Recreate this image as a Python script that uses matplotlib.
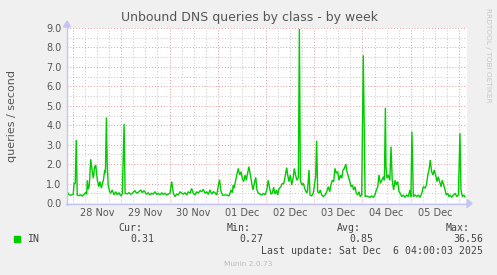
import matplotlib
matplotlib.use("Agg")
import matplotlib.pyplot as plt

# ---- data: hours since 28 Nov 00:00, queries/second ----
hours = [-2.9, -2.0, -0.9, 0.1, 0.5, 1.1, 1.6, 2.1, 3.0, 3.8, 4.6, 5.5, 6.3, 6.8, 7.1, 7.6, 8.1, 8.8,
         9.6, 10.1, 10.8, 11.3, 12.1, 12.6, 12.9, 13.4, 14.1, 14.6, 15.1, 15.8, 16.1, 16.6, 17.0, 17.5,
         18.2, 18.7, 19.5, 20.4, 21.2, 22.0, 22.9, 23.7, 24.5, 25.4, 25.9, 27.0, 27.8, 28.7, 29.5, 30.7,
         31.7, 32.8, 33.7, 34.5, 35.3, 36.2, 36.7, 37.4, 38.3, 39.1, 39.9, 40.8, 41.6, 42.4, 43.3, 44.1,
         44.9, 45.8, 46.6, 47.4, 48.2, 49.1, 49.9, 50.7, 51.6, 52.4, 53.2, 54.1, 54.9, 55.7, 56.6, 57.3,
         58.2, 59.0, 59.8, 60.7, 61.5, 62.3, 63.2, 64.0, 64.8, 65.7, 66.5, 67.3, 68.1, 69.0, 69.8, 70.6,
         71.5, 72.3, 72.9, 73.6, 74.4, 75.6, 76.6, 77.6, 78.6, 79.2, 79.7, 80.2, 80.9, 81.6, 82.2, 82.9,
         83.6, 84.2, 84.9, 85.6, 86.2, 86.9, 87.5, 88.2, 88.9, 89.5, 90.2, 90.9, 91.5, 92.2, 93.0, 93.9,
         94.7, 95.5, 96.4, 97.1, 97.8, 98.5, 99.1, 99.8, 100.5, 101.3, 101.8, 102.6, 103.3, 104.1, 104.8,
         105.5, 106.3, 106.8, 107.4, 108.1, 108.8, 109.6, 110.1, 110.8, 111.4, 112.1, 112.6, 113.1, 113.8,
         114.6, 115.4, 116.3, 116.7, 117.4, 117.9, 118.7, 119.5, 120.0, 120.7, 121.2, 121.7, 122.4, 123.0,
         123.7, 124.5, 125.4, 126.2, 127.0, 127.7, 128.3, 129.0, 129.7, 130.3, 131.0, 131.7, 132.3, 133.0,
         133.7, 134.3, 135.0, 135.7, 136.3, 137.0, 137.7, 138.3, 139.0, 139.6, 140.3, 140.9, 141.6, 142.3,
         142.9, 143.6, 144.4, 145.3, 146.1, 146.9, 147.7, 148.6, 149.4, 150.2, 150.9, 151.6, 152.2, 152.9,
         153.6, 154.4, 154.9, 155.4, 155.7, 156.2, 156.8, 157.6, 158.2, 158.8, 159.5, 160.2, 160.8, 161.5,
         162.2, 162.8, 163.5, 164.3, 165.2, 166.0, 166.8, 167.6, 168.1, 168.6, 169.3, 170.1, 171.0, 171.8,
         172.6, 173.5, 174.3, 175.1, 175.8, 176.5, 177.1, 177.7, 178.4, 179.1, 179.7, 180.4, 181.1, 181.7,
         182.4, 183.1, 183.7, 184.4, 185.1, 185.7, 186.4, 187.0, 187.7, 188.4, 189.2, 190.1, 190.9, 191.7,
         192.5, 193.0, 193.7, 194.4, 195.0]
values = [0.58, 0.42, 0.40, 0.45, 1.00, 1.00, 3.24, 0.40, 0.38, 0.42, 0.36, 0.45, 0.55, 0.45, 1.17, 0.70, 0.90, 2.25,
          1.61, 1.27, 1.87, 1.95, 1.17, 0.95, 0.84, 1.10, 0.76, 1.00, 1.17, 1.70, 1.53, 4.40, 2.00, 0.90,
          0.60, 0.50, 0.67, 0.42, 0.58, 0.42, 0.53, 0.36, 0.47, 4.06, 0.50, 0.47, 0.53, 0.45, 0.50, 0.64,
          0.50, 0.58, 0.67, 0.53, 0.64, 0.50, 0.46, 0.53, 0.41, 0.50, 0.46, 0.58, 0.44, 0.50, 0.41, 0.53,
          0.44, 0.50, 0.41, 0.46, 0.50, 1.10, 0.50, 0.33, 0.46, 0.41, 0.58, 0.50, 0.46, 0.53, 0.41, 0.58,
          0.50, 0.75, 0.50, 0.41, 0.58, 0.50, 0.64, 0.58, 0.70, 0.50, 0.58, 0.44, 0.67, 0.46, 0.58, 0.53,
          0.41, 0.90, 1.20, 0.60, 0.40, 0.41, 0.41, 0.36, 0.67, 0.53, 0.93, 0.76, 1.17, 1.49, 1.78, 1.44,
          1.61, 1.27, 1.10, 1.44, 1.17, 1.56, 1.87, 1.44, 1.01, 0.67, 1.01, 1.32, 0.67, 0.50, 0.46, 0.41,
          0.50, 0.41, 0.67, 1.17, 0.76, 0.46, 0.50, 0.81, 0.46, 0.67, 0.41, 0.76, 0.81, 1.01, 0.98,
          1.35, 1.82, 1.44, 1.10, 1.44, 0.93, 1.35, 1.78, 1.39, 1.17, 1.32, 8.95, 1.17, 0.93,
          1.01, 0.70, 0.50, 0.67, 1.70, 0.41, 0.36, 0.50, 0.84, 1.35, 3.20, 0.58, 0.50, 0.67,
          0.41, 0.33, 0.41, 0.58, 0.84, 0.58, 0.93, 1.17, 1.10, 1.78, 1.53, 1.61, 1.17, 1.44,
          1.27, 1.70, 1.78, 2.00, 1.61, 1.35, 1.10, 0.84, 0.93, 0.67, 0.84, 0.50, 0.41, 0.58,
          0.33, 0.41, 7.60, 0.33, 0.36, 0.33, 0.29, 0.36, 0.29, 0.41, 0.67, 0.84, 1.44, 1.01,
          1.17, 1.35, 1.17, 4.90, 1.87, 1.27, 1.44, 1.17, 2.90, 1.17, 0.67, 1.17, 0.93, 1.10,
          0.58, 0.50, 0.33, 0.41, 0.29, 0.41, 0.33, 0.67, 0.33, 3.67, 0.33, 0.41, 0.33, 0.41,
          0.29, 0.50, 0.84, 0.76, 0.93, 1.44, 1.70, 2.21, 1.61, 1.44, 1.70, 1.44, 1.10, 1.35,
          1.10, 0.84, 1.17, 0.93, 0.67, 0.41, 0.50, 0.33, 0.41, 0.29, 0.41, 0.50, 0.33, 0.41,
          3.59, 0.67, 0.33, 0.41, 0.31]

day_labels = ["28 Nov", "29 Nov", "30 Nov", "01 Dec", "02 Dec", "03 Dec", "04 Dec", "05 Dec"]
y_ticks = [0, 1, 2, 3, 4, 5, 6, 7, 8, 9]
title = "Unbound DNS queries by class - by week"
series_name = "IN"
stats_names = ["Cur:", "Min:", "Avg:", "Max:"]
stats_values = ["0.31", "0.27", "0.85", "36.56"]
last_update = "Last update: Sat Dec  6 04:00:03 2025"

W, H = 497, 275
fig = plt.figure(figsize=(W / 100, H / 100), dpi=100, facecolor="#f0f0f0")

def fx(x):
    return x / W

def fy(y):
    return 1 - y / H

ax = fig.add_axes([fx(67), fy(203), fx(400), 175 / H])
ax.set_facecolor("white")
ax.set_xlim(-3, 196)
ax.set_ylim(0, 9)

# grids
for v in [i * 0.5 for i in range(1, 18, 2)]:
    ax.axhline(v, color="#c8c8c8", lw=0.7, ls=(0, (1, 2)), zorder=1)
for v in y_ticks[1:]:
    ax.axhline(v, color="#e49a9a", lw=0.7, ls=(0, (1, 2)), zorder=1)
for h in range(0, 197, 6):
    if h % 24 != 0:
        ax.axvline(h, color="#c8c8c8", lw=0.7, ls=(0, (1, 2)), zorder=1)
for d in range(0, 9):
    ax.axvline(d * 24, color="#e49a9a", lw=0.7, ls=(0, (1, 2)), zorder=1)

ax.plot(hours, values, color="#00cc00", lw=1.0, zorder=3, solid_joinstyle="miter")

for s in ax.spines.values():
    s.set_visible(False)
ax.tick_params(length=0)
ax.set_yticks(y_ticks)
ax.set_yticklabels([f"{v:.1f}" for v in y_ticks], fontsize=7, color="#555555")
ax.tick_params(axis="y", pad=4)
ax.set_xticks([])

for i, lab in enumerate(day_labels):
    ax.text(i * 24 + 12, -0.5, lab, transform=ax.transData, ha="center", va="center",
            fontsize=7, color="#555555", clip_on=False)

# axis lines with arrows (lavender)
axc = "#c4c4f4"
fig.add_artist(plt.Line2D([fx(66), fx(468)], [fy(203.5), fy(203.5)], color=axc, lw=1))
fig.add_artist(plt.Line2D([fx(67), fx(67)], [fy(205), fy(24)], color=axc, lw=1))
fig.add_artist(plt.Polygon([[fx(467), fy(199.5)], [fx(467), fy(207.5)], [fx(472), fy(203.5)]],
                           closed=True, color=axc, transform=fig.transFigure))
fig.add_artist(plt.Polygon([[fx(63.5), fy(27)], [fx(70.5), fy(27)], [fx(67), fy(21)]],
                           closed=True, color=axc, transform=fig.transFigure))

fig.text(fx(250), fy(18), title, ha="center", va="center", fontsize=9, color="#555555")
fig.text(fx(12), fy(116), "queries / second", rotation=90, ha="center", va="center",
         fontsize=8, color="#555555")
fig.text(fx(488), fy(55), "RRDTOOL / TOBI OETIKER", rotation=270, ha="center", va="center",
         fontsize=5.3, color="#c8c8c8")

mono = "DejaVu Sans Mono"
fig.add_artist(plt.Rectangle((fx(14), fy(242)), fx(6), 6 / H, color="#00cc00",
                             transform=fig.transFigure))
fig.text(fx(27), fy(239.5), series_name, ha="left", va="center", fontsize=7.1, family=mono, color="#444444")
name_right = [142, 251, 361, 470]
val_right = [154, 263, 373, 483]
for n, v, nr, vr in zip(stats_names, stats_values, name_right, val_right):
    fig.text(fx(nr), fy(228), n, ha="right", va="center", fontsize=7.1, family=mono, color="#444444")
    fig.text(fx(vr), fy(239.5), v, ha="right", va="center", fontsize=7.1, family=mono, color="#444444")
fig.text(fx(483), fy(251), last_update, ha="right", va="center", fontsize=7.1, family=mono, color="#444444")
fig.text(fx(248), fy(264), "Munin 2.0.73", ha="center", va="center", fontsize=5.3, color="#bbbbbb")

fig.savefig("out.png", dpi=100, facecolor=fig.get_facecolor())
